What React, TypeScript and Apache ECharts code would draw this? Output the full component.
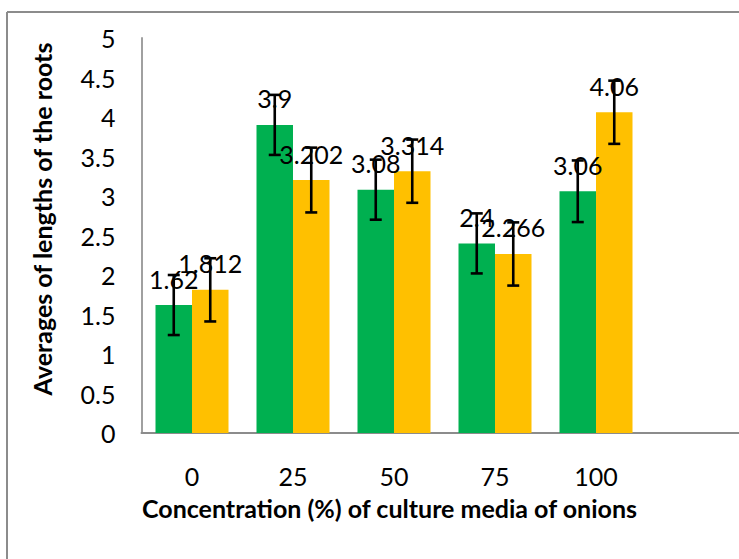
import React, { useEffect, useRef } from "react";
import * as echarts from "echarts";

const categories = ["0", "25", "50", "75", "100", ""];
const seriesGreen = [1.62, 3.9, 3.08, 2.4, 3.06];
const seriesYellow = [1.812, 3.202, 3.314, 2.266, 4.06];
const errGreen = [0.38, 0.38, 0.38, 0.38, 0.39];
const errYellow = [0.4, 0.41, 0.4, 0.4, 0.4];
const yMin = 0;
const yMax = 5;
const yInterval = 0.5;
const yTitle = "Averages of lengths of the roots";
const xTitle = "Concentration (%) of culture media of onions";

const FONT = "Lato";
const BAR_W = 36.5;
const FS = 25;

export default function App() {
  const ref = useRef<HTMLDivElement>(null);
  useEffect(() => {
    if (!ref.current) return;
    const chart = echarts.init(ref.current, null, { renderer: "svg" });
    const errSeries = (vals: number[], errs: number[], offset: number) => ({
      type: "custom",
      z: 10,
      renderItem: (_p: any, api: any) => {
        const i = api.value(0);
        const lo = api.coord([i, api.value(1)]);
        const hi = api.coord([i, api.value(2)]);
        const cx = lo[0] + offset;
        const st = { stroke: "#000", lineWidth: 2.6 };
        return {
          type: "group",
          children: [
            { type: "line", shape: { x1: cx, y1: hi[1], x2: cx, y2: lo[1] }, style: st },
            { type: "line", shape: { x1: cx - 6, y1: hi[1], x2: cx + 6, y2: hi[1] }, style: st },
            { type: "line", shape: { x1: cx - 6, y1: lo[1], x2: cx + 6, y2: lo[1] }, style: st },
          ],
        };
      },
      encode: { x: 0, y: [1, 2] },
      data: vals.map((v, i) => [i, v - errs[i], v + errs[i]]),
      silent: true,
    });
    const labelStyle = {
      show: true,
      position: "top" as const,
      distance: 14,
      fontFamily: FONT,
      fontSize: FS,
      color: "#000",
    };
    chart.setOption({
      animation: false,
      textStyle: { fontFamily: FONT },
      grid: {
        left: 141.5,
        top: 38,
        bottom: 126,
        right: -8.5,
        containLabel: false,
        outerBoundsMode: "none",
      },
      xAxis: {
        type: "category",
        data: categories,
        axisLine: { lineStyle: { color: "#8c8c8c", width: 2 } },
        axisTick: { show: false },
        axisLabel: { fontFamily: FONT, fontSize: FS, color: "#000", margin: 30 },
      },
      yAxis: {
        type: "value",
        min: yMin,
        max: yMax,
        interval: yInterval,
        splitLine: { show: false },
        axisLine: { show: true, lineStyle: { color: "#a0a0a0", width: 2 } },
        axisTick: { show: false },
        axisLabel: { fontFamily: FONT, fontSize: FS, color: "#000", margin: 26 },
      },
      series: [
        {
          type: "bar",
          data: seriesGreen,
          barWidth: BAR_W,
          barGap: "0%",
          itemStyle: { color: "#00B050" },
          label: labelStyle,
        },
        {
          type: "bar",
          data: seriesYellow,
          barWidth: BAR_W,
          barGap: "0%",
          itemStyle: { color: "#FFC000" },
          label: labelStyle,
        },
        errSeries(seriesGreen, errGreen, -BAR_W / 2),
        errSeries(seriesYellow, errYellow, BAR_W / 2),
      ],
      graphic: [
        {
          type: "line",
          shape: { x1: 7, y1: 12, x2: 739, y2: 12 },
          style: { stroke: "#8c8c8c", lineWidth: 2 },
        },
        {
          type: "line",
          shape: { x1: 7, y1: 12, x2: 7, y2: 559 },
          style: { stroke: "#8c8c8c", lineWidth: 2 },
        },
        {
          type: "text",
          x: 42,
          y: 219,
          rotation: Math.PI / 2,
          style: {
            text: yTitle,
            fontFamily: FONT,
            fontSize: FS,
            fontWeight: "bold",
            fill: "#000",
            align: "center",
            verticalAlign: "middle",
          },
        },
        {
          type: "text",
          x: 389.5,
          y: 508,
          style: {
            text: xTitle,
            fontFamily: FONT,
            fontSize: FS,
            fontWeight: "bold",
            fill: "#000",
            align: "center",
            verticalAlign: "middle",
          },
        },
      ],
    });
    return () => chart.dispose();
  }, []);
  return (
    <div
      ref={ref}
      style={{ position: "absolute", left: 0, top: 0, width: 739, height: 559 }}
    />
  );
}
